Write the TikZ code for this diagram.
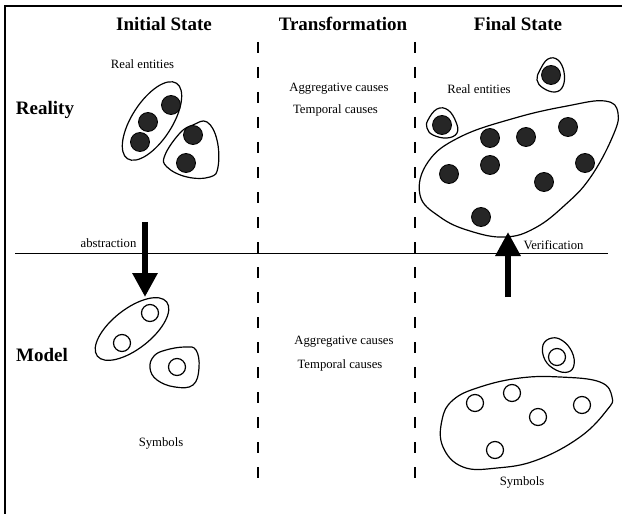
\documentclass[tikz,border=0pt]{standalone}
\usepackage{fontspec}
\setmainfont{Liberation Serif}
\usetikzlibrary{arrows.meta}
\begin{document}
\begin{tikzpicture}[x=1bp,y=-1bp,
  hdr/.style={font=\fontsize{19bp}{22bp}\selectfont\bfseries, anchor=base, inner sep=0pt},
  lbl/.style={font=\fontsize{12.7bp}{15bp}\selectfont, anchor=base, inner sep=0pt},
  outline/.style={line width=1.2bp},
  ent/.style={fill=black!85, draw=black, line width=0.8bp},
  sym/.style={draw=black, fill=white, line width=1.2bp},
  bigarrow/.style={line width=6.5bp, -{Triangle[width=24bp,length=24bp]}},
  divider/.style={line width=1.2bp, dash pattern=on 11bp off 14bp},
  frameline/.style={line width=2bp}
]
\useasboundingbox (0,0) rectangle (622,514);
% frame
\draw[frameline] (5,514) -- (5,6) -- (622,6);

% headers
\node[hdr] (hinit) at (164,31) {Initial State};
\node[hdr] (htrans) at (343,31) {Transformation};
\node[hdr] (hfinal) at (518,31) {Final State};
\node[hdr] (reality) at (45,115) {Reality};
\node[hdr] (model) at (42,361) {Model};

% dividers
\draw[divider] (258,42) -- (258,492);
\draw[divider] (415,42) -- (415,492);
\draw[line width=1bp] (15,253) -- (608,253);

% labels
\node[lbl] (re1) at (142.5,69) {Real entities};
\node[lbl] (re2) at (479,94) {Real entities};
\node[lbl] (ag1) at (339,92) {Aggregative causes};
\node[lbl] (tc1) at (335.5,114) {Temporal causes};
\node[lbl] (ag2) at (344,344) {Aggregative causes};
\node[lbl] (tc2) at (340,368) {Temporal causes};
\node[lbl] (abs) at (108.5,248) {abstraction};
\node[lbl] (ver) at (553.5,249) {Verification};
\node[lbl] (sym1) at (161,446) {Symbols};
\node[lbl] (sym2) at (522,485) {Symbols};

% reality, initial state
\draw[outline, rotate around={57:(152,121)}] (152,121) ellipse [x radius=45, y radius=20];
\draw[outline] plot[smooth cycle, tension=0.7] coordinates {(207,122) (217,140) (218,167) (210,177) (187,177) (167,167) (165,155) (180,133) (193,125)};
\draw[ent] (140,142) circle (9.5);
\draw[ent] (148,122) circle (9.5);
\draw[ent] (171,105) circle (9.5);
\draw[ent] (193,135) circle (9.5);
\draw[ent] (186,163) circle (9.5);

% reality, final state
\draw[outline] plot[smooth cycle, tension=0.7] coordinates {(540,70) (548,59) (558,60) (564,72) (563,86) (555,92) (543,88) (537,80)};
\draw[outline] plot[smooth cycle, tension=0.7] coordinates {(428,120) (437,109) (448,110) (456,122) (457,133) (447,138) (433,135) (427,128)};
\draw[outline] plot[smooth cycle, tension=0.7] coordinates {(420,195) (428,162) (460,137) (515,118) (567,106) (605,101) (618,113) (612,138) (590,178) (565,205) (535,228) (505,237) (470,231) (440,217)};
\draw[ent] (551,75) circle (9.5);
\draw[ent] (442,125) circle (9.5);
\draw[ent] (490,138) circle (9.5);
\draw[ent] (526,137) circle (9.5);
\draw[ent] (568,127) circle (9.5);
\draw[ent] (449,174) circle (9.5);
\draw[ent] (490,165) circle (9.5);
\draw[ent] (585,163) circle (9.5);
\draw[ent] (544,182) circle (9.5);
\draw[ent] (481,217) circle (9.5);

% model, initial state
\draw[outline, rotate around={38:(132,329)}] (132,329) ellipse [x radius=44, y radius=20];
\draw[outline] plot[smooth cycle, tension=0.7] coordinates {(150,368) (154,356) (166,350) (185,347) (196,350) (199,368) (193,385) (175,387) (157,380)};
\draw[sym] (150,313) circle (8.5);
\draw[sym] (122,343) circle (8.5);
\draw[sym] (177,367) circle (8.5);

% model, final state
\draw[outline] plot[smooth cycle, tension=0.7] coordinates {(543,345) (552,338) (563,341) (572,352) (574,365) (568,372) (556,370) (545,360)};
\draw[outline] plot[smooth cycle, tension=0.7] coordinates {(453,400) (442,420) (443,447) (463,467) (497,468) (537,460) (580,437) (607,410) (612,397) (600,382) (560,377) (520,378) (480,387)};
\draw[sym] (557,357) circle (8.5);
\draw[sym] (475,403) circle (8.5);
\draw[sym] (512,393) circle (8.5);
\draw[sym] (538,417) circle (8.5);
\draw[sym] (582,405) circle (8.5);
\draw[sym] (495,450) circle (8.5);

% arrows
\coordinate (absfrom) at (145,222);
\coordinate (absto) at (145,297);
\coordinate (verfrom) at (508,297);
\coordinate (verto) at (508,232);
\draw[bigarrow] (absfrom) -- (absto);
\draw[bigarrow] (verfrom) -- (verto);
\end{tikzpicture}
\end{document}
